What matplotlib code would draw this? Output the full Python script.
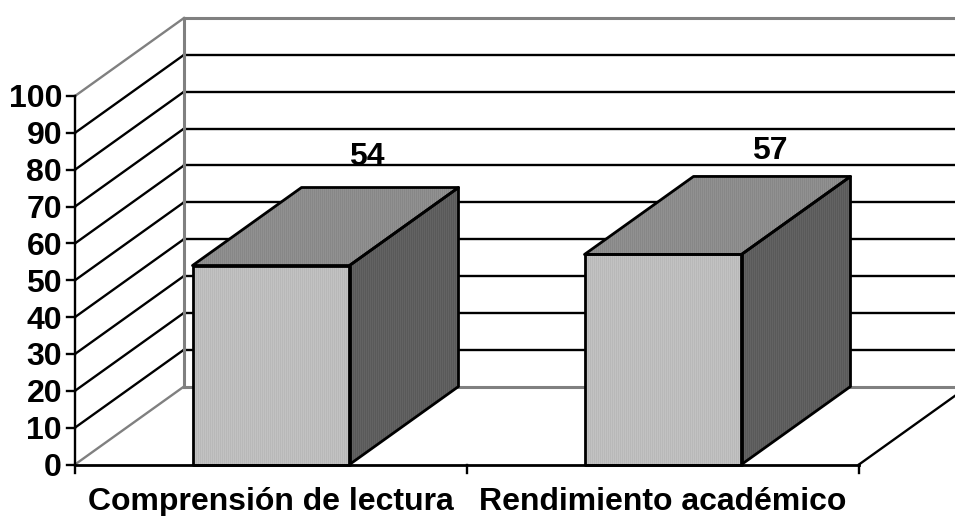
import numpy as np
import matplotlib
matplotlib.use('Agg')
import matplotlib.pyplot as plt
from matplotlib.patches import Polygon

# Datos
categorias = ['Comprensión de lectura', 'Rendimiento académico']
valores = [54, 57]
ticks_y = list(range(0, 101, 10))

plt.rcParams['font.family'] = ['Liberation Sans', 'DejaVu Sans']

# Escala: una categoria = 392 px, 100 unidades = 368.5 px
PX_X = 392.0
PX_Y = 3.685
X0, Y0 = 75.0, 464.5
W, H = 955, 516
prof_x = 109.0 / PX_X   # profundidad del efecto 3D
prof_y = 78.0 / PX_Y
ancho = 157.0 / PX_X
lw_negro = 1.7
lw_gris = 2.2
gris = '#808080'
tam = 23

fig = plt.figure(figsize=(W / 100, H / 100), dpi=100)
ax = fig.add_axes([0, 0, 1, 1])
ax.set_xlim(-X0 / PX_X, (W - X0) / PX_X)
ax.set_ylim(-(H - Y0) / PX_Y, Y0 / PX_Y)
ax.axis('off')

n = len(categorias)
x_fin = ax.get_xlim()[1]

# Paredes y rejilla
for t in ticks_y:
    col = gris if t in (0, 100) else 'black'
    ax.plot([0, prof_x], [t, t + prof_y], color=col, lw=1.7, zorder=2)
    ax.plot([prof_x, x_fin], [t + prof_y, t + prof_y], color=col, lw=lw_gris if col == gris else lw_negro, zorder=2)
ax.plot([prof_x, prof_x], [prof_y, 100 + prof_y], color=gris, lw=lw_gris, zorder=2)

# Suelo y ejes
ax.plot([n, n + prof_x], [0, prof_y], color='black', lw=lw_negro, zorder=2)
ax.plot([0, 0], [0, 100], color='black', lw=lw_negro, zorder=3)
ax.plot([0, n], [0, 0], color='black', lw=lw_negro + 0.3, zorder=3)
for t in ticks_y:
    ax.plot([-8 / PX_X, 0], [t, t], color='black', lw=lw_negro, zorder=3)
    ax.text(-13 / PX_X, t, str(t), ha='right', va='center_baseline', fontsize=tam, fontweight='bold')
for i in range(n + 1):
    ax.plot([i, i], [0, -8 / PX_Y], color='black', lw=lw_negro, zorder=3)


def cara(puntos, claro, oscuro):
    # cara con rayado vertical fino
    pol = Polygon(puntos, closed=True, facecolor='none', edgecolor='black', lw=lw_negro + 0.3, zorder=6, joinstyle='round')
    xs = [p[0] for p in puntos]
    ys = [p[1] for p in puntos]
    ancho_px = int((max(xs) - min(xs)) * PX_X)
    franjas = np.array([[claro if k % 2 == 0 else oscuro for k in range(ancho_px)]])
    im = ax.imshow(franjas, cmap='gray', vmin=0, vmax=1, aspect='auto', interpolation='nearest',
                   extent=(min(xs), max(xs), min(ys), max(ys)), zorder=5)
    ax.add_patch(pol)
    im.set_clip_path(pol)


# Barras
desp_etiqueta = [(0.245, 23), (0.273, 17)]
for i, v in enumerate(valores):
    izq = i + 0.5 - ancho / 2
    der = i + 0.5 + ancho / 2
    cara([(izq, 0), (der, 0), (der, v), (izq, v)], 0.76, 0.72)
    cara([(izq, v), (der, v), (der + prof_x, v + prof_y), (izq + prof_x, v + prof_y)], 0.57, 0.53)
    cara([(der, 0), (der + prof_x, prof_y), (der + prof_x, v + prof_y), (der, v)], 0.39, 0.35)
    dx, dy = desp_etiqueta[i]
    ax.text(i + 0.5 + dx, v + prof_y + dy / PX_Y, str(v), ha='center', va='baseline',
            fontsize=tam, fontweight='bold', zorder=7)
    ax.text(i + 0.5, -(510 - Y0) / PX_Y, categorias[i], ha='center', va='baseline',
            fontsize=tam, fontweight='bold')

ax.set_xlim(-X0 / PX_X, (W - X0) / PX_X)
ax.set_ylim(-(H - Y0) / PX_Y, Y0 / PX_Y)
fig.savefig('out.png', dpi=100)
